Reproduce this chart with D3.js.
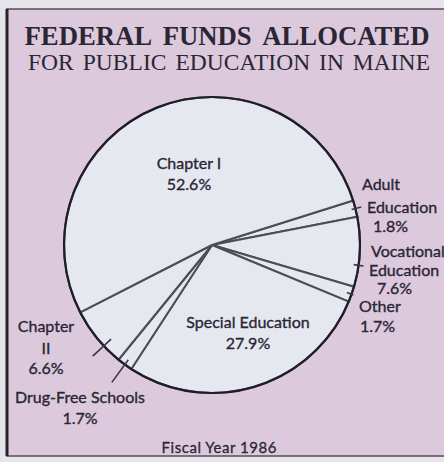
<!DOCTYPE html>
<html><head><meta charset="utf-8">
<script src="https://cdn.jsdelivr.net/npm/d3@7/dist/d3.min.js"></script>
<style>html,body{margin:0;padding:0;background:#e6e4ea;}svg{display:block;}</style>
</head><body>
<script>
// ---- data ----
const categories = ["Adult Education","Vocational Education","Other","Special Education","Drug-Free Schools","Chapter II","Chapter I"];
const shares = [1.8, 7.6, 1.7, 27.9, 1.7, 6.6, 52.6];
const titleLines = ["FEDERAL FUNDS ALLOCATED","FOR PUBLIC EDUCATION IN MAINE"];
const footnote = "Fiscal Year 1986";

// ---- layout (label placement, not data) ----
const labelLayout = {
  "Chapter I":          {anchor:"middle", lines:[["Chapter I",189,162],["%",189,183]]},
  "Special Education":  {anchor:"middle", lines:[["Special Education",248,321],["%",248,342]]},
  "Adult Education":    {anchor:"start",  lines:[["Adult",362,183],["Education",367,206],["%",373,225]], tick:[0.5,-4,6]},
  "Vocational Education":{anchor:"start", lines:[["Vocational",371,250],["Education",369,269],["%",377,287]], tick:[0.69,-5,5]},
  "Other":              {anchor:"start",  lines:[["Other",359,305],["%",360,325]], tick:[0.5,-5,2]},
  "Chapter II":         {anchor:"middle", lines:[["Chapter",46,325],["II",46,347],["%",46,367]], tick:[0.33,-10,15]},
  "Drug-Free Schools":  {anchor:"middle", lines:[["Drug-Free Schools",80,396],["%",80,417]], tick:[0.5,-6,22]}
};

const W = 444, H = 462;
const cx = 212, cy = 245, R = 148;
const ink = "#2a2636";
const labelFont = "Lato,'Open Sans',sans-serif";

const svg = d3.select("body").append("svg").attr("width", W).attr("height", H);

// background + frame
svg.append("rect").attr("width", W).attr("height", H).attr("fill", "#e6e4ea");
svg.append("rect").attr("x", 7).attr("y", 9).attr("width", W).attr("height", 447)
  .attr("fill", "#dccadc").attr("stroke", "#5c5662").attr("stroke-width", 1.6);
svg.append("line").attr("x1", 7).attr("x2", 7).attr("y1", 9).attr("y2", 456)
  .attr("stroke", "#26232c").attr("stroke-width", 3);

// title: fit each line to the reference width without squeezing glyphs
const titleSpecs = [
  {y:45, size:30, weight:"bold", len:405, x:227, ws:6},
  {y:70, size:23.5, weight:"normal", len:402, x:229, ws:3}
];
titleLines.forEach((t,i)=>{
  const s = titleSpecs[i];
  const el = svg.append("text").text(t).attr("x", s.x).attr("y", s.y)
    .attr("text-anchor","middle")
    .attr("font-family","'Liberation Serif','DejaVu Serif',serif")
    .attr("font-size", s.size).attr("font-weight", s.weight)
    .attr("word-spacing", s.ws)
    .attr("fill", ink);
  const w = el.node().getComputedTextLength();
  if (w > s.len) {
    el.attr("font-size", s.size * s.len / w).attr("word-spacing", s.ws * s.len / w);
  } else {
    el.attr("letter-spacing", (s.len - w) / (t.length - 1));
  }
});

// pie
const pie = d3.pie().sort(null).value(d=>d.v)
  .startAngle(72.5*Math.PI/180).endAngle(72.5*Math.PI/180 + 2*Math.PI);
const data = categories.map((c,i)=>({c, v:shares[i]}));
const arcs = pie(data);
const arc = d3.arc().innerRadius(0).outerRadius(R);
const g = svg.append("g").attr("transform", `translate(${cx},${cy})`);

g.selectAll("path.slice").data(arcs).join("path").attr("class","slice")
  .attr("d", arc).attr("fill", "#e6e8f0")
  .attr("stroke", "#4e4c56").attr("stroke-width", 2).attr("stroke-linejoin","round");

g.append("circle").attr("r", R).attr("fill","none")
  .attr("stroke", "#1f1d27").attr("stroke-width", 2.2);

// leader ticks + labels
const fmt = d3.format(".1f");
arcs.forEach(a=>{
  const L = labelLayout[a.data.c];
  if (L.tick) {
    const [f, r0, r1] = L.tick;
    const ang = a.startAngle + f*(a.endAngle - a.startAngle);
    const sx = Math.sin(ang), sy = -Math.cos(ang);
    g.append("line")
      .attr("x1", (R+r0)*sx).attr("y1", (R+r0)*sy)
      .attr("x2", (R+r1)*sx).attr("y2", (R+r1)*sy)
      .attr("stroke", "#3a3742").attr("stroke-width", 1.6);
  }
  L.lines.forEach(([txt,x,y])=>{
    svg.append("text")
      .text(txt === "%" ? fmt(a.data.v) + "%" : txt)
      .attr("x", x).attr("y", y)
      .attr("text-anchor", L.anchor)
      .attr("dominant-baseline","central")
      .attr("font-family", labelFont)
      .attr("font-size", 16)
      .attr("fill", ink)
      .attr("stroke", ink).attr("stroke-width", 0.35);
  });
});

svg.append("text").text(footnote).attr("x", 219).attr("y", 447)
  .attr("text-anchor","middle").attr("dominant-baseline","central")
  .attr("font-family", labelFont).attr("font-size", 15)
  .attr("textLength", 115).attr("lengthAdjust", "spacing")
  .attr("fill", ink).attr("stroke", ink).attr("stroke-width", 0.3);
</script>
</body></html>
